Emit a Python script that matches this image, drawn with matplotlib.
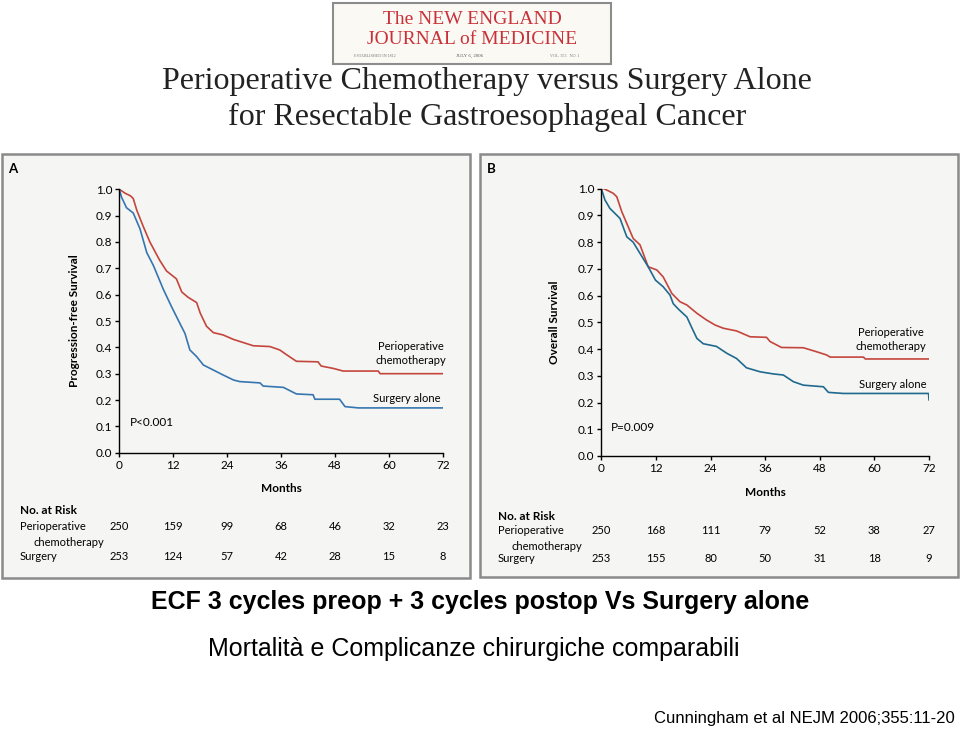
import matplotlib
matplotlib.use("Agg")
import matplotlib.pyplot as plt
from matplotlib.patches import Rectangle

W, H = 960, 731

# ---- data ----
months_ticks = [0, 12, 24, 36, 48, 60, 72]
surv_ticks = [0.0, 0.1, 0.2, 0.3, 0.4, 0.5, 0.6, 0.7, 0.8, 0.9, 1.0]

# Panel A: progression-free survival
pfs_periop_t = [0, 1.3, 2.5, 3.1, 3.9, 5.3, 6.8, 9.0, 10.5, 12.7, 13.9, 15.3, 17.2, 18.0, 19.4,
                20.9, 23.1, 25.4, 27.6, 29.8, 33.5, 35.7, 37.2, 39.4, 44.2, 44.9, 47.6, 49.8,
                57.6, 58.0, 72]
pfs_periop_s = [1.0, 0.985, 0.975, 0.965, 0.92, 0.86, 0.80, 0.73, 0.69, 0.66, 0.61, 0.59, 0.57,
                0.53, 0.48, 0.456, 0.447, 0.43, 0.418, 0.406, 0.403, 0.39, 0.372, 0.347, 0.345,
                0.329, 0.32, 0.31, 0.31, 0.30, 0.30]
pfs_surg_t = [0, 0.5, 1.6, 3.1, 4.6, 6.1, 7.6, 9.8, 11.6, 13.5, 14.6, 15.7, 17.2, 18.7, 20.9,
              23.1, 25.4, 26.8, 31.3, 32.0, 36.5, 39.4, 43.1, 43.5, 49.0, 50.2, 53.2, 72]
pfs_surg_s = [1.0, 0.97, 0.93, 0.91, 0.85, 0.76, 0.71, 0.62, 0.555, 0.49, 0.453, 0.39, 0.365,
              0.333, 0.314, 0.295, 0.276, 0.27, 0.265, 0.253, 0.248, 0.223, 0.22, 0.203, 0.203,
              0.175, 0.17, 0.17]

# Panel B: overall survival
os_periop_t = [0, 0.6, 2.6, 3.4, 4.5, 5.9, 7.0, 8.5, 10.3, 12.2, 13.6, 15.5, 17.3, 18.8, 21.0,
               23.1, 25.0, 26.8, 29.7, 32.7, 36.3, 37.1, 39.6, 44.4, 47.3, 49.5, 50.3, 57.6,
               58.0, 72]
os_periop_s = [1.0, 1.0, 0.983, 0.97, 0.914, 0.858, 0.814, 0.79, 0.708, 0.696, 0.67, 0.608,
               0.577, 0.565, 0.534, 0.509, 0.49, 0.478, 0.468, 0.446, 0.444, 0.428, 0.406,
               0.405, 0.39, 0.378, 0.37, 0.37, 0.363, 0.363]
os_surg_t = [0, 0.8, 1.9, 4.1, 5.6, 7.0, 8.5, 10.3, 11.9, 13.6, 15.1, 15.8, 16.9, 18.8, 19.8,
             21.0, 22.4, 25.3, 27.6, 29.7, 31.9, 34.9, 37.8, 40.0, 42.2, 44.4, 48.8, 49.9,
             53.2, 71.9, 72]
os_surg_s = [1.0, 0.958, 0.926, 0.889, 0.82, 0.80, 0.758, 0.708, 0.658, 0.633, 0.602, 0.57,
             0.55, 0.52, 0.483, 0.44, 0.42, 0.41, 0.384, 0.365, 0.33, 0.315, 0.307, 0.303,
             0.278, 0.265, 0.259, 0.238, 0.234, 0.234, 0.21]

# numbers at risk
risk_pfs_periop = [250, 159, 99, 68, 46, 32, 23]
risk_pfs_surg = [253, 124, 57, 42, 28, 15, 8]
risk_os_periop = [250, 168, 111, 79, 52, 38, 27]
risk_os_surg = [253, 155, 80, 50, 31, 18, 9]

RED = "#c4453c"
BLUE_A = "#3576b0"
BLUE_B = "#1f6a8e"
PANEL_FONT = "Lato"

fig = plt.figure(figsize=(W / 100, H / 100), dpi=100)
fig.patch.set_facecolor("white")


def fx(x):
    return x / W


def fy(y):
    return 1 - y / H


def ptext(x, y, s, **kw):
    fig.text(fx(x), fy(y), s, **kw)


def box(x0, y0, x1, y1, face, edge, lw):
    fig.patches.append(Rectangle((fx(x0), fy(y1)), fx(x1) - fx(x0), fy(y0) - fy(y1),
                                 transform=fig.transFigure, facecolor=face,
                                 edgecolor=edge, lw=lw, zorder=-10))


# ---- header: journal logo and article title ----
box(333, 3, 611, 64, "#fbf9f3", "#8c8c8c", 1.5)
ptext(472, 20, "The NEW ENGLAND", ha="center", va="center", color="#c8323a",
      family="Liberation Serif", fontsize=14)
ptext(472, 39, "JOURNAL of MEDICINE", ha="center", va="center", color="#c8323a",
      family="Liberation Serif", fontsize=14)
ptext(375, 56, "ESTABLISHED IN 1812", ha="center", va="center", color="#777777",
      family="Liberation Serif", fontsize=3)
ptext(470, 56, "JULY 6, 2006", ha="center", va="center", color="#555555",
      family="Liberation Serif", fontsize=3.5)
ptext(565, 56, "VOL. 355   NO. 1", ha="center", va="center", color="#777777",
      family="Liberation Serif", fontsize=3)

ptext(487, 82, "Perioperative Chemotherapy versus Surgery Alone", ha="center", va="center",
      family="Liberation Serif", fontsize=23, color="#222222")
ptext(487, 117, "for Resectable Gastroesophageal Cancer", ha="center", va="center",
      family="Liberation Serif", fontsize=23, color="#222222")


def panel(frame, ax_box, letter, ylabel, ylabel_x, t1, s1, t2, s2, blue, ptxt, pxy,
          lab1_xy, lab2_xy, risk1, risk2, rows_y, months_y):
    bx0, by0, bx1, by1 = frame
    box(bx0, by0, bx1, by1, "#f5f5f3", "#8a8a8a", 1.8)
    x0, y0, x1, y1 = ax_box
    ax = fig.add_axes([fx(x0), fy(y1), fx(x1) - fx(x0), fy(y0) - fy(y1)])
    ax.set_facecolor("none")
    ax.plot(t1, s1, color=RED, lw=1.2)
    ax.plot(t2, s2, color=blue, lw=1.2)
    ax.set_xlim(0, 72)
    ax.set_ylim(0, 1.0)
    ax.set_xticks(months_ticks)
    ax.set_yticks(surv_ticks)
    ax.set_yticklabels([f"{v:.1f}" for v in surv_ticks])
    for sp in ["top", "right"]:
        ax.spines[sp].set_visible(False)
    for sp in ["left", "bottom"]:
        ax.spines[sp].set_linewidth(1.0)
    ax.tick_params(direction="out", length=3, width=1.0, labelsize=8.5, pad=2)
    for lab in ax.get_xticklabels() + ax.get_yticklabels():
        lab.set_family(PANEL_FONT)
    ax.text(ptxt[0], ptxt[1], pxy, family=PANEL_FONT, fontsize=8.5, va="center")

    ptext(bx0 + 11, by0 + 15, letter, family=PANEL_FONT, fontweight="bold", fontsize=9.5,
          va="center", ha="center")
    ptext(ylabel_x, (y0 + y1) / 2, ylabel, family=PANEL_FONT, fontweight="bold", fontsize=8.5,
          rotation=90, ha="center", va="center")
    ptext((x0 + x1) / 2, months_y, "Months", family=PANEL_FONT, fontweight="bold", fontsize=8.5,
          ha="center", va="center")
    ptext(lab1_xy[0], lab1_xy[1] - 7, "Perioperative", family=PANEL_FONT, fontsize=8,
          ha="center", va="center")
    ptext(lab1_xy[0], lab1_xy[1] + 7, "chemotherapy", family=PANEL_FONT, fontsize=8,
          ha="center", va="center")
    ptext(lab2_xy[0], lab2_xy[1], "Surgery alone", family=PANEL_FONT, fontsize=8,
          ha="center", va="center")

    ry0, ry1, ry2 = rows_y
    ptext(bx0 + 18, ry0, "No. at Risk", family=PANEL_FONT, fontweight="bold", fontsize=8.5,
          va="center")
    ptext(bx0 + 18, ry1, "Perioperative", family=PANEL_FONT, fontsize=8, va="center")
    ptext(bx0 + 31, ry1 + 15, "chemotherapy", family=PANEL_FONT, fontsize=8, va="center")
    ptext(bx0 + 18, ry2, "Surgery", family=PANEL_FONT, fontsize=8, va="center")
    for m, a, b in zip(months_ticks, risk1, risk2):
        xp = x0 + (x1 - x0) * m / 72
        ptext(xp, ry1, str(a), family=PANEL_FONT, fontsize=8, ha="center", va="center")
        ptext(xp, ry2, str(b), family=PANEL_FONT, fontsize=8, ha="center", va="center")


panel((2, 154, 470, 578), (119.3, 189.3, 443, 452.7), "A", "Progression-free Survival", 75,
      pfs_periop_t, pfs_periop_s, pfs_surg_t, pfs_surg_s, BLUE_A, (2.3, 0.115), "P<0.001",
      (411, 354), (407, 399), risk_pfs_periop, risk_pfs_surg, (511, 527, 556), 488)

panel((480, 154, 958, 577), (601.3, 188.7, 929, 456), "B", "Overall Survival", 555,
      os_periop_t, os_periop_s, os_surg_t, os_surg_s, BLUE_B, (2.0, 0.105), "P=0.009",
      (891, 340), (893, 384), risk_os_periop, risk_os_surg, (516, 531, 559), 492)

# ---- slide captions ----
ptext(480, 602, "ECF 3 cycles preop + 3 cycles postop Vs Surgery alone", ha="center",
      va="center", family="Liberation Sans", fontweight="bold", fontsize=18)
ptext(474, 649, "Mortalità e Complicanze chirurgiche comparabili", ha="center",
      va="center", family="Liberation Sans", fontsize=18)
ptext(955, 718, "Cunningham et al NEJM 2006;355:11-20", ha="right", va="center",
      family="Liberation Sans", fontsize=12)

fig.savefig("out.png", dpi=100)
